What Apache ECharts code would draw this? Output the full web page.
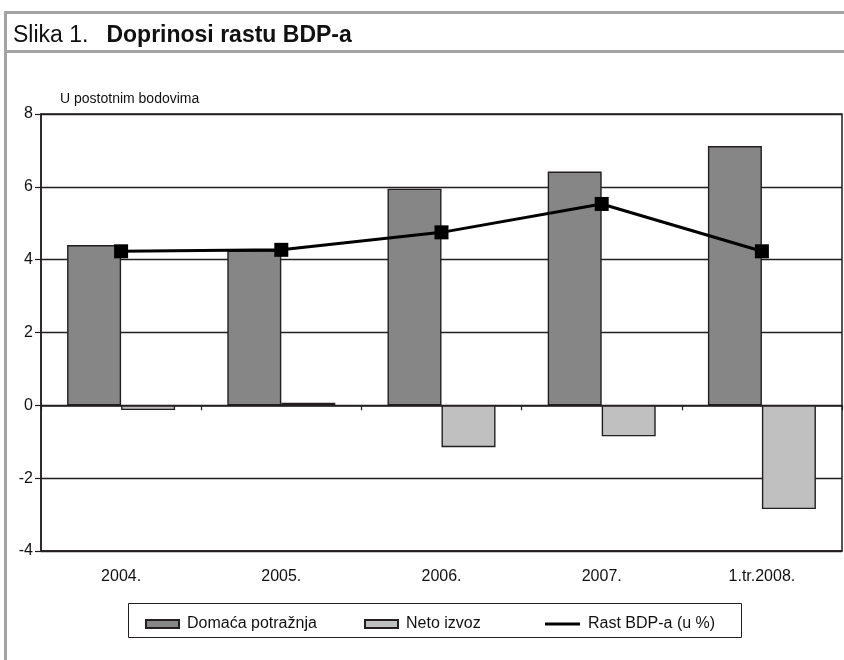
<!DOCTYPE html>
<html>
<head>
<meta charset="utf-8">
<script src="https://cdn.jsdelivr.net/npm/echarts@6/dist/echarts.min.js"></script>
<style>
html,body{margin:0;padding:0;background:#fff;}
#c{width:844px;height:660px;}
</style>
</head>
<body>
<div id="c"></div>
<script>
const categories = ['2004.', '2005.', '2006.', '2007.', '1.tr.2008.'];
const domacaPotraznja = [4.40, 4.25, 5.95, 6.42, 7.12];
const netoIzvoz = [-0.13, 0.07, -1.15, -0.85, -2.85];
const rastBDP = [4.23, 4.27, 4.75, 5.53, 4.23];
const yTicks = [-4, -2, 0, 2, 4, 6, 8];

const dark = '#231f20';
const font = '"Liberation Sans", Arial, sans-serif';

const chart = echarts.init(document.getElementById('c'));
chart.setOption({
  animation: false,
  backgroundColor: '#fff',
  title: {
    left: 8, top: 19,
    text: '{a|Slika 1.}  {b|Doprinosi rastu BDP-a}',
    textStyle: {
      fontWeight: 'normal',
      rich: {
        a: {fontFamily: font, fontSize: 23, fontWeight: 'normal', color: '#111', padding: [0, 8, 0, 0]},
        b: {fontFamily: font, fontSize: 23, fontWeight: 'bold', color: '#111'}
      }
    }
  },
  graphic: [
    {type: 'rect', shape: {x: 5.5, y: 12.5, width: 900, height: 700}, style: {fill: null, stroke: '#a3a3a3', lineWidth: 3}, silent: true, z: 0},
    {type: 'line', shape: {x1: 5, y1: 51.5, x2: 844, y2: 51.5}, style: {stroke: '#a3a3a3', lineWidth: 3}, silent: true},
    {type: 'text', left: 60, top: 92, style: {text: 'U postotnim bodovima', font: '14px ' + font, fill: '#111'}},
    {type: 'rect', shape: {x: 128.5, y: 603.5, width: 613, height: 34}, style: {fill: '#fff', stroke: dark, lineWidth: 1}, silent: true, z: 1}
  ],
  legend: [
    {left: 140, top: 611, itemWidth: 33, itemHeight: 8, z: 5,
     textStyle: {fontFamily: font, fontSize: 16, color: '#111', padding: [0, 0, 0, 3]},
     data: [{name: 'Domaća potražnja', icon: 'rect'}]},
    {left: 359, top: 611, itemWidth: 33, itemHeight: 8, z: 5,
     textStyle: {fontFamily: font, fontSize: 16, color: '#111', padding: [0, 0, 0, 3]},
     data: [{name: 'Neto izvoz', icon: 'rect'}]},
    {left: 540, top: 611, itemWidth: 35, itemHeight: 8, z: 5,
     textStyle: {fontFamily: font, fontSize: 16, color: '#111', padding: [0, 0, 0, 3]},
     data: [{name: 'Rast BDP-a (u %)', icon: 'path://M0,0h36v3.2h-36z', itemStyle: {color: '#000', borderWidth: 0}}]}
  ],
  grid: {left: 41, right: 2, top: 114, bottom: 109, show: true, borderColor: dark, borderWidth: 1.5, containLabel: false},
  xAxis: [
    {type: 'category', data: categories, position: 'bottom',
     axisLine: {onZero: false, show: true, lineStyle: {color: dark, width: 1.5}},
     axisTick: {show: false},
     axisLabel: {fontFamily: font, fontSize: 16, color: '#111', margin: 18}},
    {type: 'category', data: categories, position: 'top',
     axisLine: {onZero: true, show: true, lineStyle: {color: dark, width: 1.5}},
     axisTick: {show: true, inside: true, length: 5, lineStyle: {color: dark, width: 1.2}},
     axisLabel: {show: false}}
  ],
  yAxis: {
    type: 'value', min: -4, max: 8, interval: 2,
    axisLine: {show: true, lineStyle: {color: dark, width: 1.5}},
    axisTick: {show: true, length: 6, lineStyle: {color: dark, width: 1.2}},
    axisLabel: {fontFamily: font, fontSize: 16, color: '#111', margin: 8,
      formatter: v => yTicks.includes(v) ? String(v) : ''},
    splitLine: {show: true, lineStyle: {color: dark, width: 1.3}}
  },
  series: [
    {name: 'Domaća potražnja', type: 'bar', data: domacaPotraznja, barWidth: 54, barGap: '0%',
     itemStyle: {color: '#868686', borderColor: dark, borderWidth: 1.4}, z: 2},
    {name: 'Neto izvoz', type: 'bar', data: netoIzvoz, barWidth: 54, barGap: '0%',
     itemStyle: {color: '#c0c0c0', borderColor: dark, borderWidth: 1.4}, z: 2},
    {name: 'Rast BDP-a (u %)', type: 'line', data: rastBDP, symbol: 'rect', symbolSize: 14,
     itemStyle: {color: '#000'}, lineStyle: {color: '#000', width: 3}, z: 4}
  ]
});
</script>
</body>
</html>
